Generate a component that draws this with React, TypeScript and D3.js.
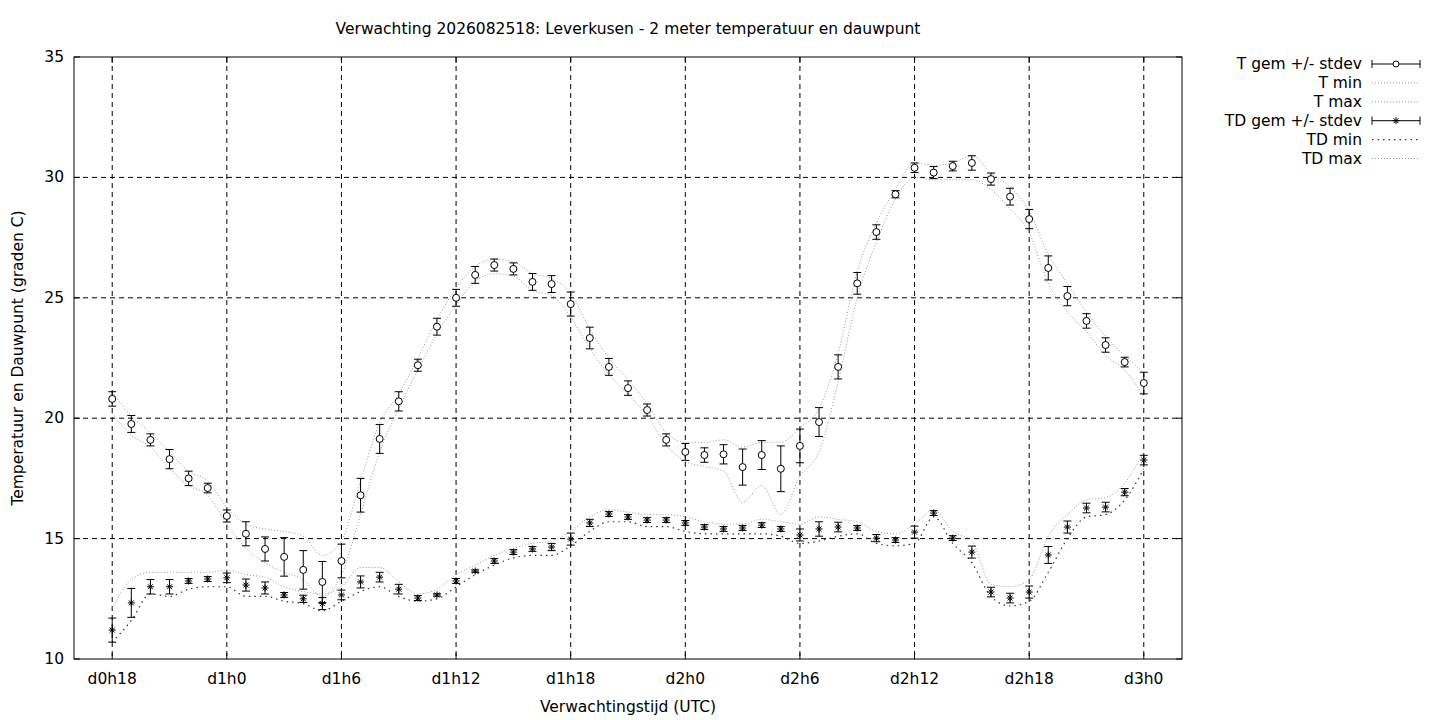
import * as d3 from 'd3'

// ─── Data (forecast hour from d0h0) ──────────────────────────────────────────

const hours = d3.range(18, 73)
const xTicks = [18, 24, 30, 36, 42, 48, 54, 60, 66, 72]
const yTicks = [10, 15, 20, 25, 30, 35]

const tMean = [20.8, 19.76, 19.1, 18.3, 17.5, 17.1, 15.94, 15.2, 14.57, 14.24, 13.7, 13.2, 14.07, 16.8, 19.14, 20.7, 22.2, 23.8, 25.0, 25.95, 26.36, 26.2, 25.66, 25.57, 24.74, 23.33, 22.13, 21.25, 20.34, 19.1, 18.6, 18.47, 18.5, 17.97, 18.47, 17.9, 18.85, 19.84, 22.13, 25.6, 27.73, 29.3, 30.4, 30.2, 30.47, 30.6, 29.93, 29.2, 28.27, 26.24, 25.07, 24.04, 23.04, 22.33, 21.46]
const tStd = [0.3, 0.35, 0.25, 0.4, 0.3, 0.2, 0.25, 0.5, 0.5, 0.8, 0.8, 0.85, 0.7, 0.7, 0.6, 0.4, 0.25, 0.35, 0.35, 0.35, 0.25, 0.25, 0.35, 0.35, 0.5, 0.45, 0.35, 0.3, 0.25, 0.25, 0.35, 0.3, 0.4, 0.75, 0.6, 0.95, 0.7, 0.6, 0.5, 0.45, 0.3, 0.15, 0.2, 0.25, 0.2, 0.3, 0.25, 0.35, 0.4, 0.5, 0.4, 0.3, 0.3, 0.2, 0.45]
const tMin = [20.2, 19.3, 18.8, 17.9, 17.2, 16.8, 15.6, 14.6, 14.0, 13.6, 13.3, 12.6, 13.5, 16.0, 18.6, 20.4, 22.0, 23.5, 24.7, 25.7, 26.0, 25.9, 25.3, 25.1, 24.2, 22.9, 21.8, 21.0, 20.1, 18.9, 18.2, 18.0, 17.8, 16.5, 17.2, 16.0, 17.6, 18.6, 21.5, 25.0, 27.3, 29.1, 30.0, 29.9, 29.9, 29.9, 29.5, 28.7, 27.7, 25.6, 24.4, 23.6, 22.6, 22.0, 20.9]
const tMax = [21.1, 20.1, 19.4, 18.6, 17.8, 17.4, 16.3, 15.6, 15.4, 15.3, 15.1, 14.3, 14.9, 17.4, 19.8, 21.0, 22.5, 24.1, 25.4, 26.3, 26.6, 26.5, 26.0, 25.8, 25.2, 23.7, 22.5, 21.6, 20.6, 19.4, 19.0, 19.0, 19.1, 18.8, 19.0, 19.0, 19.6, 20.4, 22.7, 26.1, 28.1, 29.5, 30.6, 30.5, 30.6, 30.9, 30.2, 29.6, 28.6, 26.8, 25.6, 24.4, 23.4, 22.6, 21.9]

const tdMean = [11.2, 12.33, 13.0, 13.0, 13.24, 13.32, 13.37, 13.07, 12.95, 12.66, 12.5, 12.3, 12.66, 13.2, 13.4, 12.9, 12.53, 12.66, 13.24, 13.65, 14.07, 14.44, 14.57, 14.65, 14.98, 15.65, 16.02, 15.9, 15.77, 15.77, 15.65, 15.48, 15.4, 15.44, 15.56, 15.4, 15.15, 15.4, 15.48, 15.44, 15.02, 14.94, 15.27, 16.06, 15.02, 14.44, 12.78, 12.53, 12.78, 14.32, 15.48, 16.27, 16.31, 16.93, 18.26]
const tdStd = [0.5, 0.6, 0.3, 0.3, 0.1, 0.1, 0.2, 0.25, 0.25, 0.1, 0.15, 0.25, 0.2, 0.25, 0.2, 0.2, 0.1, 0.05, 0.1, 0.05, 0.1, 0.1, 0.1, 0.15, 0.25, 0.15, 0.1, 0.1, 0.1, 0.1, 0.1, 0.1, 0.1, 0.1, 0.1, 0.1, 0.25, 0.3, 0.2, 0.1, 0.15, 0.1, 0.25, 0.1, 0.1, 0.25, 0.2, 0.2, 0.25, 0.35, 0.25, 0.2, 0.2, 0.15, 0.2]
const tdMin = [10.7, 11.6, 12.7, 12.6, 12.9, 13.0, 13.0, 12.6, 12.6, 12.4, 12.3, 12.0, 12.4, 12.8, 13.0, 12.6, 12.4, 12.5, 13.0, 13.5, 13.9, 14.2, 14.3, 14.3, 14.7, 15.3, 15.7, 15.7, 15.5, 15.5, 15.3, 15.2, 15.2, 15.2, 15.2, 15.1, 14.8, 14.9, 15.1, 15.2, 14.8, 14.7, 14.8, 15.9, 14.8, 14.0, 12.6, 12.2, 12.4, 13.6, 15.0, 15.9, 16.0, 16.6, 17.9]
const tdMax = [12.1, 13.3, 13.6, 13.6, 13.6, 13.6, 13.7, 13.5, 13.4, 13.0, 12.8, 12.7, 13.0, 13.8, 13.8, 13.2, 12.7, 12.9, 13.5, 13.9, 14.3, 14.6, 14.8, 14.9, 15.3, 15.9, 16.2, 16.1, 16.0, 16.0, 15.9, 15.7, 15.6, 15.6, 15.8, 15.7, 15.6, 15.9, 15.8, 15.7, 15.3, 15.2, 15.6, 16.2, 15.3, 14.9, 13.1, 13.0, 13.3, 15.1, 16.0, 16.6, 16.7, 17.3, 18.6]

const legend = [
  { label: 'T gem +/- stdev', kind: 'tgem' },
  { label: 'T min', kind: 'dot' },
  { label: 'T max', kind: 'dot' },
  { label: 'TD gem +/- stdev', kind: 'tdgem' },
  { label: 'TD min', kind: 'tdmin' },
  { label: 'TD max', kind: 'dot' },
]

// ─── Layout ──────────────────────────────────────────────────────────────────

const W = 1440, H = 720
const M = { left: 74, right: 1182, top: 57, bottom: 659 }
const FONT = 'DejaVu Sans, sans-serif'
const FS = 15.5

const x = d3.scaleLinear().domain([16, 74]).range([M.left, M.right])
const y = d3.scaleLinear().domain([10, 35]).range([M.bottom, M.top])

const tickLabel = (h: number) => `d${Math.floor(h / 24)}h${h % 24}`

function Star({ cx, cy }: { cx: number; cy: number }) {
  const r = 3.5
  return (
    <g stroke="#000" strokeWidth={1}>
      <line x1={cx - r} x2={cx + r} y1={cy} y2={cy} />
      <line x1={cx} x2={cx} y1={cy - r} y2={cy + r} />
      <line x1={cx - r * 0.7} x2={cx + r * 0.7} y1={cy - r * 0.7} y2={cy + r * 0.7} />
      <line x1={cx - r * 0.7} x2={cx + r * 0.7} y1={cy + r * 0.7} y2={cy - r * 0.7} />
    </g>
  )
}

function ErrBar({ cx, lo, hi }: { cx: number; lo: number; hi: number }) {
  return (
    <g stroke="#000" strokeWidth={1}>
      <line x1={cx} x2={cx} y1={y(lo)} y2={y(hi)} />
      <line x1={cx - 4} x2={cx + 4} y1={y(lo)} y2={y(lo)} />
      <line x1={cx - 4} x2={cx + 4} y1={y(hi)} y2={y(hi)} />
    </g>
  )
}

export default function App() {
  const line = (vals: number[]) =>
    d3.line<number>().x((_, i) => x(hours[i])).y((d) => y(d)).curve(d3.curveMonotoneX)(vals) ?? ''
  const dotStyle = { fill: 'none', stroke: '#999', strokeWidth: 1, strokeDasharray: '1,2' }
  const tdMinStyle = { fill: 'none', stroke: '#333', strokeWidth: 1.2, strokeDasharray: '1.5,4' }

  return (
    <div style={{ position: 'fixed', left: 0, top: 0 }}>
      <svg width={W} height={H} style={{ background: '#fff', fontFamily: FONT }}>
        <text x={628} y={34} textAnchor="middle" fontSize={FS}>
          Verwachting 2026082518: Leverkusen - 2 meter temperatuur en dauwpunt
        </text>

        {/* grid */}
        {xTicks.map((h) => (
          <line key={'gx' + h} x1={x(h)} x2={x(h)} y1={M.top} y2={M.bottom} stroke="#000" strokeDasharray="5,4" strokeWidth={1} />
        ))}
        {yTicks.slice(1, -1).map((v) => (
          <line key={'gy' + v} x1={M.left} x2={M.right} y1={y(v)} y2={y(v)} stroke="#000" strokeDasharray="5,4" strokeWidth={1} />
        ))}
        <rect x={M.left} y={M.top} width={M.right - M.left} height={M.bottom - M.top} fill="none" stroke="#000" />

        {/* ticks */}
        {xTicks.map((h) => (
          <g key={'tx' + h}>
            <line x1={x(h)} x2={x(h)} y1={M.bottom} y2={M.bottom - 6} stroke="#000" />
            <line x1={x(h)} x2={x(h)} y1={M.top} y2={M.top + 6} stroke="#000" />
            <text x={x(h)} y={M.bottom + 25} textAnchor="middle" fontSize={FS}>{tickLabel(h)}</text>
          </g>
        ))}
        {yTicks.map((v) => (
          <g key={'ty' + v}>
            <line x1={M.left} x2={M.left + 6} y1={y(v)} y2={y(v)} stroke="#000" />
            <line x1={M.right} x2={M.right - 6} y1={y(v)} y2={y(v)} stroke="#000" />
            <text x={M.left - 10} y={y(v) + 5} textAnchor="end" fontSize={FS}>{v}</text>
          </g>
        ))}
        <text x={628} y={712} textAnchor="middle" fontSize={FS}>Verwachtingstijd (UTC)</text>
        <text transform={`translate(23,${(M.top + M.bottom) / 2}) rotate(-90)`} textAnchor="middle" fontSize={FS}>
          Temperatuur en Dauwpunt (graden C)
        </text>

        {/* min / max lines */}
        <path d={line(tMin)} {...dotStyle} />
        <path d={line(tMax)} {...dotStyle} />
        <path d={line(tdMin)} {...tdMinStyle} />
        <path d={line(tdMax)} {...dotStyle} />

        {/* T mean */}
        {hours.map((h, i) => (
          <g key={'t' + h}>
            <ErrBar cx={x(h)} lo={tMean[i] - tStd[i]} hi={tMean[i] + tStd[i]} />
            <circle cx={x(h)} cy={y(tMean[i])} r={3.5} fill="#fff" stroke="#000" />
          </g>
        ))}
        {/* TD mean */}
        {hours.map((h, i) => (
          <g key={'td' + h}>
            <ErrBar cx={x(h)} lo={tdMean[i] - tdStd[i]} hi={tdMean[i] + tdStd[i]} />
            <Star cx={x(h)} cy={y(tdMean[i])} />
          </g>
        ))}

        {/* legend */}
        {legend.map((d, i) => {
          const ly = 64 + i * 18.9
          return (
            <g key={d.label}>
              <text x={1362} y={ly + 5} textAnchor="end" fontSize={FS}>{d.label}</text>
              {d.kind === 'tgem' || d.kind === 'tdgem' ? (
                <g stroke="#000">
                  <line x1={1372} x2={1420} y1={ly} y2={ly} />
                  <line x1={1372} x2={1372} y1={ly - 4} y2={ly + 4} />
                  <line x1={1420} x2={1420} y1={ly - 4} y2={ly + 4} />
                  {d.kind === 'tgem'
                    ? <circle cx={1396} cy={ly} r={3} fill="#fff" />
                    : <Star cx={1396} cy={ly} />}
                </g>
              ) : (
                <line x1={1372} x2={1420} y1={ly} y2={ly} {...(d.kind === 'tdmin' ? tdMinStyle : dotStyle)} />
              )}
            </g>
          )
        })}
      </svg>
    </div>
  )
}
